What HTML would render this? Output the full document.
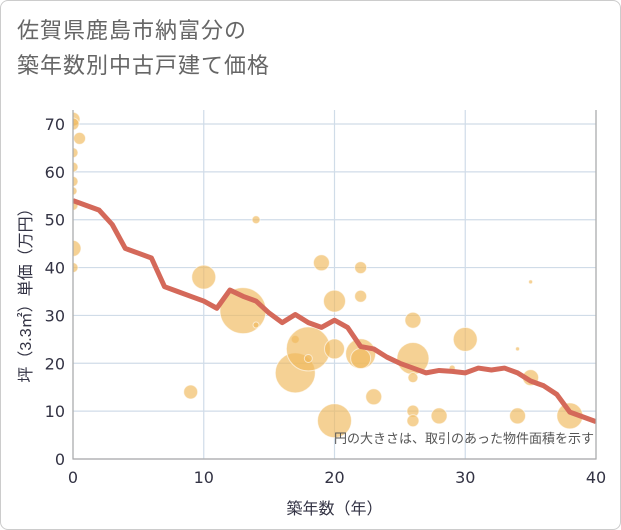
<!DOCTYPE html>
<html><head><meta charset="utf-8"><style>
body{margin:0;background:#fff;font-family:"Liberation Sans","Noto Sans CJK JP",sans-serif}
#wrap{position:absolute;left:0;top:0;width:619px;height:528px;border:1px solid #ccc;border-radius:8px}
#title{position:absolute;left:17px;top:13px;font-size:22px;line-height:35px;color:#666;letter-spacing:1px}
</style></head><body>
<div id="wrap"></div>
<div id="title">佐賀県鹿島市納富分の<br>築年数別中古戸建て価格</div>
<svg id="chart" width="621" height="530" style="position:absolute;left:0;top:0"></svg>
<script>
const xTicks=[0,10,20,30,40];
const yTicks=[0,10,20,30,40,50,60,70];
const lineYears=[0,1,2,3,4,5,6,7,8,9,10,11,12,13,14,15,16,17,18,19,20,21,22,23,24,25,26,27,28,29,30,31,32,33,34,35,36,37,38,39,40];
const lineValues=[54,53,52,49,44,43,42,36,35,34,33,31.5,35.3,34,33,30.5,28.5,30.2,28.5,27.5,29,27.5,23.5,23,21.3,20,19,18,18.5,18.3,18,19,18.6,19,18,16.3,15.3,13.5,9.8,8.8,7.8];
const bubbleX=[0,0,0.5,0,0,0,0,0,0,0,9,10,13,14,14,17,17,18,18,19,20,20,20,22,22,22,22,23,26,26,26,26,26,28,29,30,34,34,35,35,38];
const bubbleY=[71,70,67,64,61,58,56,53,44,40,14,38,31,50,28,25,18,23,21,41,33,8,23,40,34,22,21,13,29,21,17,10,8,9,19,25,23,9,37,17,9];
const bubbleSize=[7,6,6,5,5,5,4,5,8,5,7,12,23,4,3,4,20,22,4,8,11,17,10,6,6,15,10,8,8,16,5,6,6,8,3,12,2,8,2,8,13];
const NS="http://www.w3.org/2000/svg";
const svg=document.getElementById('chart');
const X0=73,X1=596,Y0=459,Y1=124;
const xs=v=>X0+(X1-X0)*v/40;
const ys=v=>Y0-(Y0-Y1)*v/70;
function mk(t,a,p){const e=document.createElementNS(NS,t);for(const k in a)e.setAttribute(k,a[k]);(p||svg).appendChild(e);return e;}
const defs=mk('defs',{});
const cp=mk('clipPath',{id:'plotclip'},defs);
mk('rect',{x:X0,y:Y1-14,width:X1-X0,height:Y0-Y1+14},cp);
const bg=mk('rect',{x:X0,y:Y1-14,width:X1-X0,height:Y0-Y1+14,fill:'#fff'});


xTicks.forEach(t=>{
  const l=mk('line',{x1:xs(t),x2:xs(t),y1:Y1-14,y2:Y0,stroke:'#d0dce8','stroke-width':1.2});
  
  
  const tx=mk('text',{x:xs(t),y:Y0+24,'text-anchor':'middle','font-size':16,fill:'#334','font-family':'DejaVu Sans, sans-serif'});
  tx.textContent=t;
  
  
});
yTicks.forEach(t=>{
  const l=mk('line',{x1:X0,x2:X1,y1:ys(t),y2:ys(t),stroke:'#d0dce8','stroke-width':1.2});
  
  
  const tx=mk('text',{x:X0-8,y:ys(t)+6,'text-anchor':'end','font-size':16,fill:'#334','font-family':'DejaVu Sans, sans-serif'});
  tx.textContent=t;
  
  
});
const g=mk('g',{'clip-path':'url(#plotclip)'});
bubbleX.forEach((v,i)=>{
  const c=mk('circle',{cx:xs(v),cy:ys(bubbleY[i]),r:bubbleSize[i],fill:'rgba(240,185,90,0.65)',stroke:'rgba(255,255,255,0.6)','stroke-width':1},g);
  
  
});
const pl=mk('polyline',{points:lineYears.map((v,i)=>xs(v)+','+ys(lineValues[i])).join(' '),fill:'none',stroke:'#d4695a','stroke-width':5,'stroke-linejoin':'round'},g);


const ax=mk('path',{d:`M${X0},${Y1-14}V${Y0}H${X1}V${Y1-14}`,fill:'none',stroke:'#aaa','stroke-width':1.2});


const note=mk('text',{x:X1-2,y:443,'text-anchor':'end','font-size':13,fill:'#555'});
note.textContent='円の大きさは、取引のあった物件面積を示す';


const xt=mk('text',{x:(X0+X1)/2,y:514,'text-anchor':'middle','font-size':16,fill:'#334'});
xt.textContent='築年数（年）';


const yt=mk('text',{x:0,y:0,'text-anchor':'middle','font-size':16,fill:'#334',transform:`translate(31,${(Y0+Y1)/2}) rotate(-90)`});
yt.textContent='坪（3.3㎡）単価（万円）';


</script>
</body></html>
